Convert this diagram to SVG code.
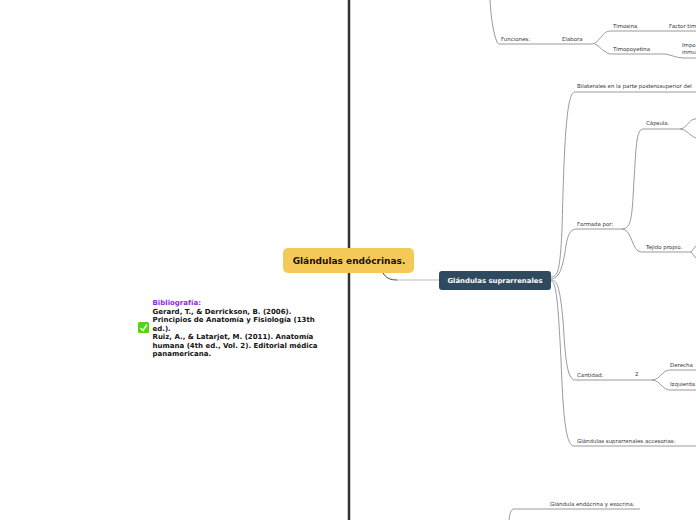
<svg xmlns="http://www.w3.org/2000/svg" width="696" height="520" viewBox="0 0 696 520">
<style>
text{font-family:"DejaVu Sans",sans-serif}
.l{font-size:5.45px;fill:#333;opacity:.99}
.c{fill:none;stroke:#8f8f8f;stroke-width:.9}
.b{font-size:7px;font-weight:bold;fill:#111;opacity:.99}
</style>
<rect width="696" height="520" fill="#fff"/>
<g id="connectors">
<line x1="349" y1="0" x2="349" y2="520" stroke="#333" stroke-width="2.5"/>
<path d="M383 273C386 278 390 280 397 280" fill="none" stroke="#444" stroke-width="1"/>
<path d="M397 280H440" fill="none" stroke="#bbb" stroke-width="1.200"/>
<path class="c" d="M490 0C491 20 494 35 497 42C498 44 499 44 501 44H590C597 44 598 40 602 36C605 32 607 31 612 31H696"/>
<path class="c" d="M595 44C600 46 601 50 606 52C608 54 610 54 612 54H665C672 55 676 58 684 58H696"/>
<path class="c" d="M551 277C558 277 560 270 562 230C564 150 566 91 575 92H696"/>
<path class="c" d="M551 279C558 279 563 270 566 245C568 235 570 229 577 229H622C632 229 632 215 634 180C636 150 636 129 643 129H680C686 129 688 121 694 119H696"/>
<path class="c" d="M680 129C686 129 690 136 696 138"/>
<path class="c" d="M622 229C632 229 632 252 641 252H691L696 246"/>
<path class="c" d="M691 252L696 258"/>
<path class="c" d="M551 280C558 280 560 290 563 320C565 350 566 380 575 380H652C660 380 662 370 670 370H696"/>
<path class="c" d="M652 380C660 380 662 390 670 390H696"/>
<path class="c" d="M551 281C556 281 558 300 561 360C563 410 565 446 574 446H696"/>
<path class="c" d="M509 520C510 513 511 509 514 509H640"/>
</g>
<g id="root"><rect x="283" y="248" width="131" height="25" rx="5" fill="#f5c957"/><text x="349" y="264" text-anchor="middle" font-size="9" font-weight="bold" fill="#111" opacity=".99">Glándulas endócrinas.</text></g>
<g id="suprarrenales"><rect x="439" y="271" width="112" height="19" rx="3" fill="#2f4a5e"/><text x="495" y="283" text-anchor="middle" font-size="6.900" font-weight="bold" fill="#fff" opacity=".99">Glándulas suprarrenales</text></g>
<g id="bibliografia">
<rect x="138" y="322" width="11" height="11" rx="1.500" fill="#4cd90f"/><path d="M140.500 328L143 330.500L147 324.500" fill="none" stroke="#fff" stroke-width="1.500"/>
<text class="b" x="152.500" y="305" style="fill:#8a2be2">Bibliografía:</text>
<text class="b" x="152.500" y="314">Gerard, T., &amp; Derrickson, B. (2006).</text>
<text class="b" x="152.500" y="322">Principios de Anatomía y Fisiología (13th</text>
<text class="b" x="152.500" y="331">ed.).</text>
<text class="b" x="152.500" y="339">Ruiz, A., &amp; Latarjet, M. (2011). Anatomía</text>
<text class="b" x="152.500" y="348">humana (4th ed., Vol. 2). Editorial médica</text>
<text class="b" x="152.500" y="356">panamericana.</text>
</g>
<g id="funciones"><text class="l" x="501" y="41">Funciones:</text></g>
<g id="elabora"><text class="l" x="562" y="41">Elabora</text></g>
<g id="timosina"><text class="l" x="613" y="28">Timosina</text></g>
<g id="factor"><text class="l" x="669" y="28">Factor tím</text></g>
<g id="timopoyetina"><text class="l" x="613" y="51">Timopoyetina</text></g>
<g id="impo"><text class="l" x="682" y="47">Impo</text><text class="l" x="682" y="54">inmu</text></g>
<g id="bilaterales"><text class="l" x="577" y="88">Bilaterales en la parte posterosuperior del</text></g>
<g id="capsula"><text class="l" x="646" y="125">Cápsula.</text></g>
<g id="formada"><text class="l" x="577" y="226">Formada por:</text></g>
<g id="tejido"><text class="l" x="646" y="249">Tejido propio.</text></g>
<g id="cantidad"><text class="l" x="577" y="377">Cantidad:</text></g>
<g id="dos"><text class="l" x="635" y="376">2</text></g>
<g id="derecha"><text class="l" x="670" y="367">Derecha</text></g>
<g id="izquierda"><text class="l" x="670" y="386">Izquierda</text></g>
<g id="accesorias"><text class="l" x="577" y="443">Glándulas suprarrenales accesorias:</text></g>
<g id="endocrina"><text class="l" x="550" y="506">Glándula endócrina y exocrina.</text></g>
</svg>
